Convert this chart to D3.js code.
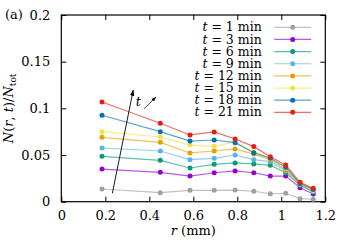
<!DOCTYPE html>
<html>
<head>
<meta charset="utf-8">
<script src="https://cdn.jsdelivr.net/npm/d3@7"></script>
<style>
  body { margin: 0; background: #fff; }
  svg text { font-family: "DejaVu Serif", serif; }
</style>
</head>
<body>
<div id="chart"></div>
<script>
// radial positions (mm)
var radii = [0.185, 0.45, 0.585, 0.695, 0.79, 0.875, 0.95, 1.02, 1.085, 1.145];

// time labels (min) and their colours
var times = [1, 3, 6, 9, 12, 15, 18, 21];
var colors = ["#a0a0a0", "#9400d3", "#009e73", "#56b4e9", "#e69f00", "#f0e442", "#0072b2", "#e51e10"];

// N(r,t)/Ntot, one array per time
var t1  = [0.0136, 0.0097, 0.0122, 0.0122, 0.0125, 0.0112, 0.0085, 0.0090, 0.0032, 0.0026];
var t3  = [0.0350, 0.0315, 0.0275, 0.0310, 0.0330, 0.0310, 0.0275, 0.0275, 0.0150, 0.0083];
var t6  = [0.0486, 0.0443, 0.0361, 0.0400, 0.0415, 0.0405, 0.0390, 0.0310, 0.0175, 0.0105];
var t9  = [0.0575, 0.0543, 0.0450, 0.0465, 0.0500, 0.0450, 0.0430, 0.0330, 0.0190, 0.0110];
var t12 = [0.0690, 0.0636, 0.0522, 0.0543, 0.0565, 0.0510, 0.0450, 0.0340, 0.0190, 0.0125];
var t15 = [0.0750, 0.0693, 0.0607, 0.0593, 0.0640, 0.0536, 0.0460, 0.0360, 0.0190, 0.0120];
var t18 = [0.0926, 0.0750, 0.0650, 0.0661, 0.0632, 0.0525, 0.0465, 0.0370, 0.0195, 0.0130];
var t21 = [0.1068, 0.0840, 0.0715, 0.0747, 0.0672, 0.0590, 0.0482, 0.0393, 0.0208, 0.0143];
var series = [t1, t3, t6, t9, t12, t15, t18, t21];

// axis ticks
var xTicks = [0, 0.2, 0.4, 0.6, 0.8, 1, 1.2];
var yTicks = [0, 0.05, 0.1, 0.15, 0.2];

var W = 347, H = 245;
var margin = {left: 61.3, right: 21.7, top: 15, bottom: 43.3};
var w = W - margin.left - margin.right, h = H - margin.top - margin.bottom;
var fs = "13px";

var svg = d3.select("#chart").append("svg")
    .attr("width", W).attr("height", H);

var g = svg.append("g")
    .attr("transform", "translate(" + margin.left + "," + margin.top + ")");

var x = d3.scaleLinear().domain([0, 1.2]).range([0, w]);
var y = d3.scaleLinear().domain([0, 0.2]).range([h, 0]);

// inward ticks on all four sides, gnuplot style
var tk = 5;
var fmt = function(d) { return d3.format("")(d); };
g.append("g").attr("transform", "translate(0," + h + ")")
    .call(d3.axisBottom(x).tickValues(xTicks).tickSizeInner(-tk).tickSizeOuter(0).tickPadding(9).tickFormat(fmt));
g.append("g")
    .call(d3.axisTop(x).tickValues(xTicks).tickSizeInner(-tk).tickSizeOuter(0).tickFormat(""));
g.append("g")
    .call(d3.axisLeft(y).tickValues(yTicks).tickSizeInner(-tk).tickSizeOuter(0).tickPadding(11).tickFormat(fmt));
g.append("g").attr("transform", "translate(" + w + ",0)")
    .call(d3.axisRight(y).tickValues(yTicks).tickSizeInner(-tk).tickSizeOuter(0).tickFormat(""));

g.selectAll("g").attr("font-family", null).attr("font-size", null);
g.selectAll(".domain").remove();
g.selectAll(".tick line").attr("stroke", "#000").attr("stroke-width", 1);
g.selectAll(".tick text").attr("fill", "#000").style("font-size", fs);

// frame
g.append("rect").attr("width", w).attr("height", h)
    .attr("fill", "none").attr("stroke", "#000").attr("stroke-width", 1.2);

// data
var line = d3.line()
    .x(function(d, i) { return x(radii[i]); })
    .y(function(d) { return y(d); });

series.forEach(function(s, k) {
    g.append("path").datum(s)
        .attr("d", line)
        .attr("fill", "none")
        .attr("stroke", colors[k])
        .attr("stroke-opacity", 0.65)
        .attr("stroke-width", 1.2);
    g.selectAll(".pt" + k).data(s).enter().append("circle")
        .attr("cx", function(d, i) { return x(radii[i]); })
        .attr("cy", function(d) { return y(d); })
        .attr("r", 2.5)
        .attr("fill", colors[k]);
});

// legend
var legX = 200.4, legY = 12.3, legDy = 12.15;
times.forEach(function(t, k) {
    var yy = legY + k * legDy;
    var txt = g.append("text")
        .attr("x", legX).attr("y", yy).attr("dy", "0.33em")
        .attr("text-anchor", "end").style("font-size", "12.5px");
    txt.append("tspan").style("font-style", "italic").text("t");
    txt.append("tspan").text(" = " + t + " min");
    g.append("line")
        .attr("x1", legX + 12.5).attr("x2", legX + 49.5)
        .attr("y1", yy).attr("y2", yy)
        .attr("stroke", colors[k]).attr("stroke-opacity", 0.65).attr("stroke-width", 1.2);
    g.append("circle")
        .attr("cx", legX + 31).attr("cy", yy).attr("r", 2.5)
        .attr("fill", colors[k]);
});

// the "t" arrow annotation
svg.append("defs").append("marker")
    .attr("id", "ah").attr("viewBox", "0 0 10 10")
    .attr("refX", 9).attr("refY", 5)
    .attr("markerWidth", 7).attr("markerHeight", 7)
    .attr("orient", "auto")
    .append("path").attr("d", "M0,1.5 L10,5 L0,8.5 Z").attr("fill", "#000");

g.append("line")
    .attr("x1", x(0.232)).attr("y1", y(0.009))
    .attr("x2", x(0.327)).attr("y2", y(0.1195))
    .attr("stroke", "#000").attr("stroke-width", 0.9)
    .attr("marker-end", "url(#ah)");

g.append("text")
    .attr("x", x(0.338)).attr("y", y(0.1025))
    .style("font-size", fs).style("font-style", "italic").text("t");

g.append("line")
    .attr("x1", x(0.376)).attr("y1", y(0.0995))
    .attr("x2", x(0.43)).attr("y2", y(0.112))
    .attr("stroke", "#000").attr("stroke-width", 0.7)
    .attr("marker-end", "url(#ah)");

// axis titles
svg.append("text")
    .attr("x", 14).attr("y", 19)
    .attr("text-anchor", "middle").style("font-size", fs).text("(a)");

svg.append("text")
    .attr("x", margin.left + x(0.6)).attr("y", 235)
    .attr("text-anchor", "middle").style("font-size", fs)
    .call(function(t) {
        t.append("tspan").style("font-style", "italic").text("r");
        t.append("tspan").text(" (mm)");
    });

svg.append("text")
    .attr("transform", "translate(13," + (margin.top + h / 2) + ") rotate(-90)")
    .attr("text-anchor", "middle").style("font-size", fs)
    .call(function(t) {
        t.append("tspan").style("font-style", "italic").text("N");
        t.append("tspan").text("(");
        t.append("tspan").style("font-style", "italic").text("r");
        t.append("tspan").text(", ");
        t.append("tspan").style("font-style", "italic").text("t");
        t.append("tspan").text(")/");
        t.append("tspan").style("font-style", "italic").text("N");
        t.append("tspan").attr("dy", 3).style("font-size", "9px").text("tot");
    });
</script>
</body>
</html>
